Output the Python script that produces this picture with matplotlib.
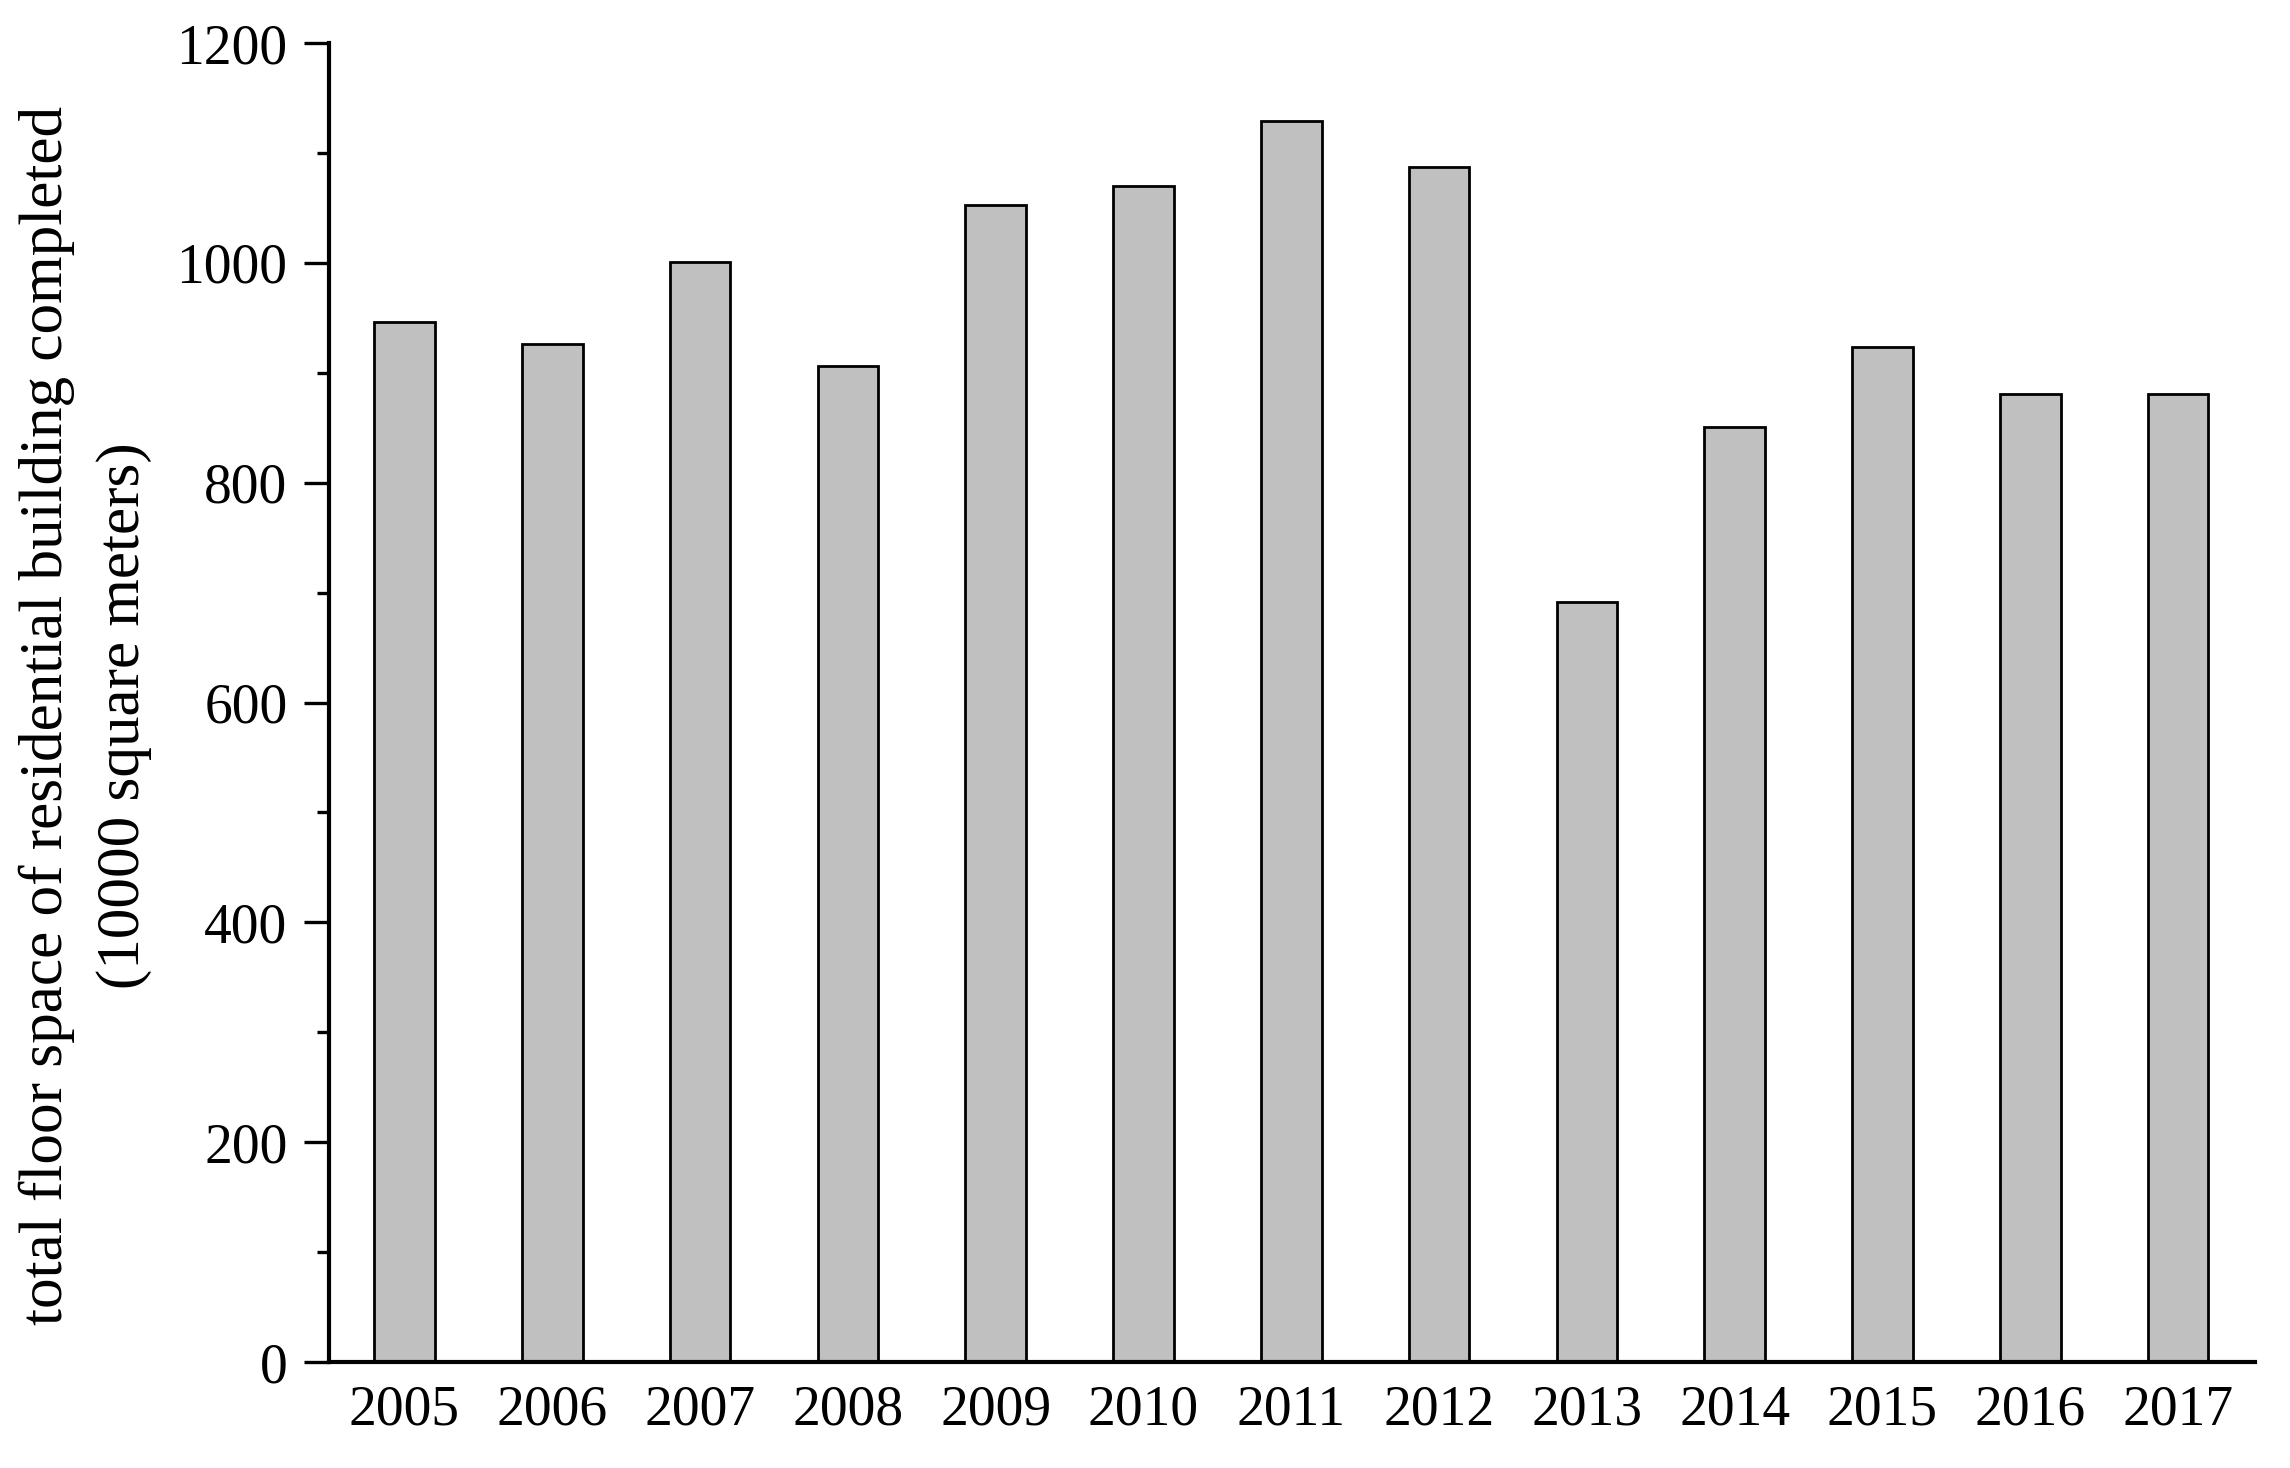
import matplotlib
matplotlib.use("Agg")
import matplotlib.pyplot as plt
from matplotlib.ticker import MultipleLocator

years = ["2005", "2006", "2007", "2008", "2009", "2010", "2011",
         "2012", "2013", "2014", "2015", "2016", "2017"]
floor_space = [946, 926, 1001, 906, 1053, 1070, 1129,
               1087, 691, 851, 923, 881, 881]

plt.rcParams["font.family"] = ["Liberation Serif", "DejaVu Serif"]

fig = plt.figure(figsize=(22.9, 14.68), dpi=100)
ax = fig.add_axes([0.1437, 0.0722, 0.841, 0.8985])

x = range(len(years))
ax.bar(x, floor_space, width=0.41, color="#c0c0c0",
       edgecolor="black", linewidth=2, zorder=2)

ax.set_xlim(-0.51, len(years) - 1 + 0.52)
ax.set_ylim(0, 1200)
ax.set_xticks(list(x))
ax.set_xticklabels(years)
ax.yaxis.set_major_locator(MultipleLocator(200))
ax.yaxis.set_minor_locator(MultipleLocator(100))

ax.spines["top"].set_visible(False)
ax.spines["right"].set_visible(False)
ax.spines["left"].set_linewidth(3)
ax.spines["bottom"].set_linewidth(3)

ax.tick_params(axis="y", which="major", direction="out", length=18,
               width=2.4, pad=12, labelsize=40)
ax.tick_params(axis="y", which="minor", direction="out", length=9,
               width=2.4)
ax.tick_params(axis="x", length=0, pad=16, labelsize=40)

ax.set_ylabel("total floor space of residential building completed\n(10000 square meters)",
              fontsize=44, linespacing=1.5, multialignment="center")
ax.yaxis.set_label_coords(-0.092, 0.49)

fig.savefig("out.png", dpi=100)
